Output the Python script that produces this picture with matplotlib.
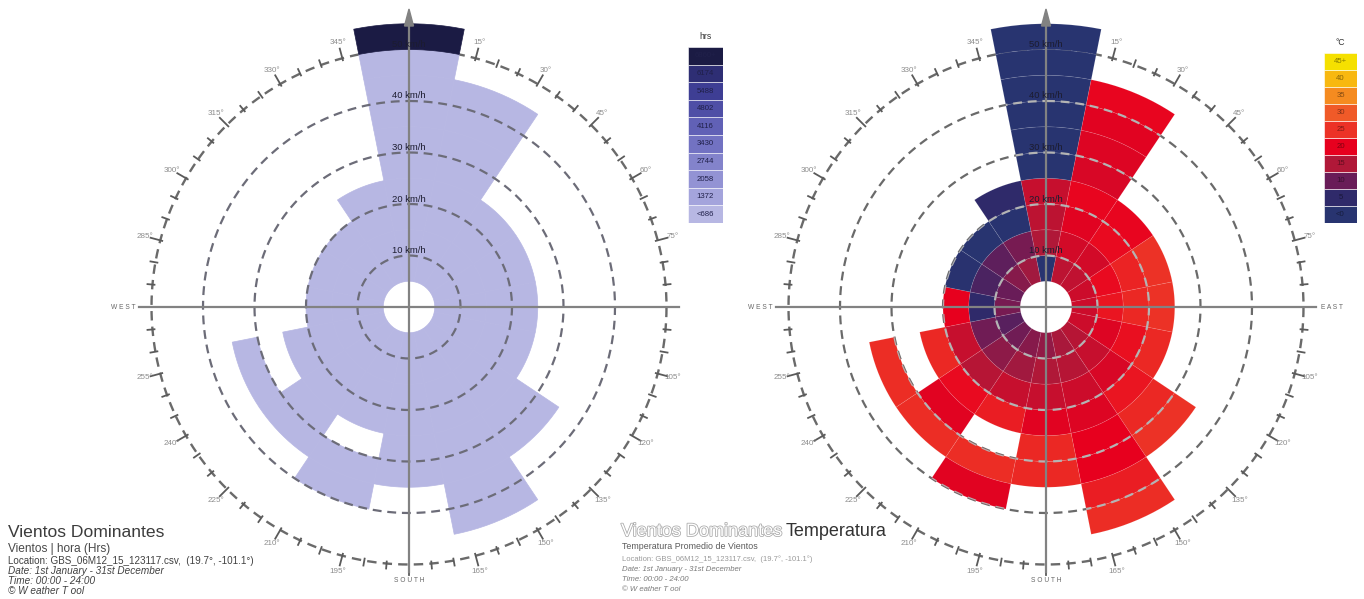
import numpy as np
import matplotlib
matplotlib.use("Agg")
import matplotlib.pyplot as plt
import matplotlib.patheffects as pe
from matplotlib.patches import Polygon, PathPatch
from matplotlib.path import Path
from matplotlib.colors import LinearSegmentedColormap

plt.rcParams["font.family"] = ["Liberation Sans", "DejaVu Sans"]

W, H = 1364, 599
PX_PER_KMH = 5.15

# -----------------------------------------------------------------------------
# Data (16 directions x 5 km/h speed bins)
# -----------------------------------------------------------------------------
DIRECTIONS = [0, 22.5, 45, 67.5, 90, 112.5, 135, 157.5,
              180, 202.5, 225, 247.5, 270, 292.5, 315, 337.5]
SECTOR_WIDTH = 22.5
SPEED_LOW = [5, 10, 15, 20, 25, 30, 35, 40, 45, 50]
BIN_WIDTH = 5
RING_SPEEDS = [10, 20, 30, 40, 50]

# hours per cell (0 = no wind in that cell)
HOURS = [
    [60, 45, 40, 35, 30, 25, 20, 15, 12, 7020],   # N
    [55, 50, 45, 40, 30, 22, 14, 6],              # NNE
    [50, 45, 35, 20],                             # NE
    [48, 40, 30, 18],                             # ENE
    [52, 45, 32, 15],                             # E
    [50, 44, 34, 16],                             # ESE
    [55, 50, 42, 30, 18, 8],                      # SE
    [60, 55, 48, 40, 30, 20, 10, 4],              # SSE
    [62, 54, 44, 30, 15, 6],                      # S
    [58, 50, 38, 20, 0, 5, 3],                    # SSW
    [56, 46, 34, 20, 8, 4],                       # SW
    [50, 40, 28, 12, 0, 3],                       # WSW
    [44, 30, 12],                                 # W
    [40, 26, 10],                                 # WNW
    [42, 28, 10],                                 # NW
    [50, 36, 20, 8],                              # NNW
]

# average temperature per cell (degC)
TEMPS = [
    [-2, 15, 16, 17, -2, -2, -2, -2, -2, -2],         # N
    [16, 18, 19.5, 20.5, 18.5, 19, 19.5, 20.5],       # NNE
    [16.5, 18, 21, 20.5],                             # NE
    [17.5, 21, 23.5, 25],                             # ENE
    [17.5, 22, 24, 25],                               # E
    [17.5, 19, 21.5, 24],                             # ESE
    [15.5, 17, 18.5, 22, 24, 25],                     # SE
    [14.5, 15.5, 17.5, 19, 20, 20, 23, 24.5],         # SSE
    [13, 15, 17, 19.5, 24, 24],                       # S
    [12, 14, 17, 23, 0, 24.5, 19.5],                  # SSW
    [10.5, 12.5, 15.5, 21, 19.5, 24.5],               # SW
    [8.5, 10.5, 17, 24, 0, 24.5],                     # WSW
    [11, 5, 20],                                      # W
    [10, 7.5, 1],                                     # WNW
    [12, 9, -1],                                      # NW
    [14, 11, 0.5, 5],                                 # NNW
]

ANGLE_LABELS = [15, 30, 45, 60, 75, 105, 120, 135, 150, 165,
                195, 210, 225, 240, 255, 285, 300, 315, 330, 345]

HRS_STEP = 686
HRS_LABELS = ["<686", "1372", "2058", "2744", "3430",
              "4116", "4802", "5488", "6174", "6860+"]
HRS_COLORS = ["#b7b7e3", "#a4a4dc", "#9393d4", "#8383cb", "#7272c2",
              "#6161b6", "#4f4fa6", "#3e3e94", "#2e2e74", "#1b1b44"]

TEMP_LEVELS = [0, 5, 10, 15, 20, 25, 30, 35, 40, 45]
TEMP_LABELS = ["<0", "5", "10", "15", "20", "25", "30", "35", "40", "45+"]
TEMP_ANCHORS = ["#283470", "#2f2a6a", "#6a1c58", "#b01838", "#e8001e",
                "#ec3226", "#f05a28", "#f58a20", "#f8b810", "#f5e000"]

temp_cmap = LinearSegmentedColormap.from_list(
    "temp", list(zip(np.linspace(0, 1, len(TEMP_ANCHORS)), TEMP_ANCHORS)))


def temp_color(t):
    return temp_cmap(np.clip(t / 45.0, 0, 1))


def hrs_color(h):
    return HRS_COLORS[min(int(h // HRS_STEP), len(HRS_COLORS) - 1)]


def polar(r, bearing):
    a = np.radians(bearing)
    return r * np.sin(a), r * np.cos(a)


def px(p):
    return p / PX_PER_KMH


def make_rose_axes(cx, cy, half=320):
    ax = plt.gcf().add_axes([(cx - half) / W, (H - cy - half) / H,
                             2 * half / W, 2 * half / H])
    ax.set_xlim(-px(half), px(half))
    ax.set_ylim(-px(half), px(half))
    ax.axis("off")
    return ax


def draw_cells(ax, color_fn, values, edge):
    polys = []
    for i, b in enumerate(DIRECTIONS):
        for j, h in enumerate(HOURS[i]):
            if h <= 0:
                continue
            r0, r1 = SPEED_LOW[j], SPEED_LOW[j] + BIN_WIDTH
            arc = np.linspace(b - SECTOR_WIDTH / 2, b + SECTOR_WIDTH / 2, 12)
            pts = [polar(r0, a) for a in arc] + [polar(r1, a) for a in arc[::-1]]
            c = color_fn(values[i][j])
            ax.add_patch(Polygon(pts, closed=True, facecolor=c,
                                 edgecolor=edge if edge else c,
                                 lw=0.5, zorder=2))
            polys.append(Path(pts + [pts[0]], closed=True))
    return Path.make_compound_path(*polys)


def draw_rings(ax, color, zorder, clip=None):
    th = np.linspace(0, 2 * np.pi, 721)
    for s in RING_SPEEDS[:-1]:
        ln, = ax.plot(s * np.sin(th), s * np.cos(th), color=color, lw=1.6,
                      ls=(0, (4, 2.6)), zorder=zorder)
        if clip is not None:
            ln.set_clip_path(clip)


def draw_frame(ax, show_east):
    th = np.linspace(0, 2 * np.pi, 721)
    R = RING_SPEEDS[-1]
    ax.plot(R * np.sin(th), R * np.cos(th), color="#6a6a6a", lw=1.7,
            ls=(0, (4, 2.6)), zorder=1)
    for a in range(0, 360, 5):
        ln = px(10) if a % 15 == 0 else px(5)
        x0, y0 = polar(R - px(2), a)
        x1, y1 = polar(R + ln, a)
        ax.plot([x0, x1], [y0, y1], color="#5a5a5a", lw=1.3, zorder=1)
    for a in ANGLE_LABELS:
        x, y = polar(R + px(16), a)
        ax.text(x, y, f"{a}°", fontsize=5.8, color="#8c8c8c",
                ha="center", va="center", zorder=6)
    # cross axes
    ax.plot([-px(270), px(270)], [0, 0], color="#828282", lw=1.6, zorder=4)
    ax.plot([0, 0], [-px(265), px(284)], color="#828282", lw=1.6, zorder=4)
    ax.add_patch(Polygon([(0, px(298)), (-px(4.5), px(281)), (px(4.5), px(281))],
                         closed=True, color="#828282", zorder=4))
    ax.text(-px(286), 0, "W E S T", fontsize=4.8, color="#666666",
            ha="center", va="center")
    ax.text(0, -px(273), "S O U T H", fontsize=4.8, color="#666666",
            ha="center", va="center")
    if show_east:
        ax.text(px(286), 0, "E A S T", fontsize=4.8, color="#666666",
                ha="center", va="center")
    for s in RING_SPEEDS:
        ax.text(0, s + px(0.5), f"{s} km/h", fontsize=6.8, color="#1c1c30",
                ha="center", va="bottom", zorder=6)


def draw_legend(x0, y0, w, h, colors, labels, title, text_color):
    lax = plt.gcf().add_axes([x0 / W, 1 - (y0 + h) / H, w / W, h / H])
    n = len(colors)
    lax.bar([0.5] * n, [1] * n, bottom=np.arange(n), width=1,
            color=colors, edgecolor="white", lw=0.4)
    for i, lab in enumerate(labels):
        lax.text(0.5, i + 0.5, lab, fontsize=5.6, color=text_color,
                 ha="center", va="center")
    lax.text(0.5, n + 0.35, title, fontsize=6.2, color="#333333",
             ha="center", va="bottom")
    lax.set_xlim(0, 1)
    lax.set_ylim(0, n)
    lax.axis("off")


def ftext(x, y, s, **kw):
    return plt.gcf().text(x / W, 1 - y / H, s, va="baseline", **kw)


fig = plt.figure(figsize=(W / 100, H / 100), dpi=100)
fig.patch.set_facecolor("white")

# --- left rose: hours ---------------------------------------------------------
axl = make_rose_axes(409, 307)
draw_frame(axl, show_east=False)
draw_cells(axl, hrs_color, HOURS, None)
draw_rings(axl, "#6c6c78", zorder=3)

# --- right rose: temperature --------------------------------------------------
axr = make_rose_axes(1046, 307)
draw_frame(axr, show_east=True)
cells = draw_cells(axr, temp_color, TEMPS, (1, 1, 1, 0.12))
draw_rings(axr, "#6a6a6a", zorder=1)
clip = PathPatch(cells, transform=axr.transData, facecolor="none",
                 edgecolor="none")
axr.add_patch(clip)
draw_rings(axr, "#b4b4b4", zorder=3, clip=clip)

# --- legends ------------------------------------------------------------------
draw_legend(688, 47, 35, 176, HRS_COLORS, HRS_LABELS, "hrs", "#20204a")
draw_legend(1324, 53, 33, 170, [temp_color(t) for t in TEMP_LEVELS],
            TEMP_LABELS, "°C", (0, 0, 0, 0.45))

# --- captions -----------------------------------------------------------------
ftext(8, 537, "Vientos Dominantes", fontsize=12.6, color="#3c3c3c")
ftext(8, 552, "Vientos | hora (Hrs)", fontsize=8.6, color="#484848")
ftext(8, 564, "Location: GBS_06M12_15_123117.csv,  (19.7°, -101.1°)",
      fontsize=7.1, color="#404040")
ftext(8, 574, "Date: 1st January - 31st December", fontsize=7.2,
      color="#404040", style="italic")
ftext(8, 584, "Time: 00:00 - 24:00", fontsize=7.2, color="#404040",
      style="italic")
ftext(8, 594, "© W eather T ool", fontsize=7.2, color="#404040",
      style="italic")

t1 = ftext(621, 536, "Vientos Dominantes", fontsize=13, color="white",
           path_effects=[pe.withStroke(linewidth=1.1, foreground="#a8a8a8")])
fig.canvas.draw()
bb = t1.get_window_extent()
ftext(bb.x1 + 4, 536, "Temperatura", fontsize=13, color="#333333")
ftext(622, 549, "Temperatura Promedio de Vientos", fontsize=6.4,
      color="#5a5a5a")
ftext(622, 561, "Location: GBS_06M12_15_123117.csv,  (19.7°, -101.1°)",
      fontsize=5.5, color="#9a9a9a")
ftext(622, 571, "Date: 1st January - 31st December", fontsize=5.6,
      color="#7a7a7a", style="italic")
ftext(622, 581, "Time: 00:00 - 24:00", fontsize=5.6, color="#7a7a7a",
      style="italic")
ftext(622, 591, "© W eather T ool", fontsize=5.6, color="#7a7a7a",
      style="italic")

fig.savefig("out.png", dpi=100, facecolor="white")
